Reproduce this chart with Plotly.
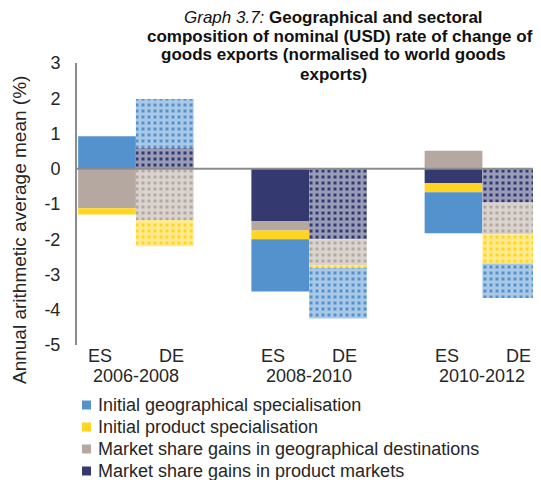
import plotly.graph_objects as go

# ---- data ----
periods = ["2006-2008", "2008-2010", "2010-2012"]
countries = ["ES", "DE"]

# stacking order (closest to zero first)
series_names = [
    "Market share gains in product markets",
    "Market share gains in geographical destinations",
    "Initial product specialisation",
    "Initial geographical specialisation",
]
product_markets_es = [0.00, -1.48, -0.41]
product_markets_de = [0.59, -2.00, -0.96]
geo_destinations_es = [-1.12, -0.27, 0.51]
geo_destinations_de = [-1.46, -0.74, -0.90]
initial_product_es = [-0.18, -0.25, -0.26]
initial_product_de = [-0.74, -0.07, -0.83]
initial_geo_es = [0.92, -1.48, -1.16]
initial_geo_de = [1.39, -1.44, -0.98]

values_es = [product_markets_es, geo_destinations_es, initial_product_es, initial_geo_es]
values_de = [product_markets_de, geo_destinations_de, initial_product_de, initial_geo_de]
colors = ["#343A70", "#B4A8A0", "#FFD520", "#5392CC"]

y_tick_vals = [-5, -4, -3, -2, -1, 0, 1, 2, 3]
y_tick_labels = ["-5", "-4", "-3", "-2", "-1", "0", "1", "2", "3"]

title_lines = [
    "<i>Graph 3.7:</i> <b>Geographical and sectoral</b>",
    "<b>composition of nominal (USD) rate of change of</b>",
    "<b>goods exports (normalised to world goods</b>",
    "<b>exports)</b>",
]
y_title = "Annual arithmetic average mean (%)"

# ---- layout geometry (page body has an 8px margin) ----
OFF = 8
W, H = 541 - OFF, 480 - OFF
L, R, T, B = 77 - OFF, 0, 63 - OFF, 135
PW, PH = W - L - R, H - T - B
FONT = "Arial, Liberation Sans, sans-serif"
TXT = "#262626"

def px_x(px):
    return (px - OFF - L) / PW

def px_y(py):
    return (H - B - (py - OFF)) / PH

group_step = 3
x_es = [g * group_step + 0.5 for g in range(len(periods))]
x_de = [g * group_step + 1.5 for g in range(len(periods))]
x_center = [g * group_step + 1.0 for g in range(len(periods))]

fig = go.Figure()
for name, col, ves in zip(series_names, colors, values_es):
    fig.add_trace(go.Bar(
        x=x_es, y=ves, width=1, name=name, showlegend=False,
        marker=dict(color=col, line=dict(width=0)),
    ))
for name, col, vde in zip(series_names, colors, values_de):
    fig.add_trace(go.Bar(
        x=x_de, y=vde, width=1, name=name, showlegend=False,
        marker=dict(color=col, line=dict(width=0),
                    pattern=dict(shape="+", fgcolor="white", bgcolor=col,
                                 size=6, solidity=0.75)),
    ))

annotations = []
shapes = []
# x labels
for xc, per in zip(x_center, periods):
    for xx, lab in ((xc - 0.62, countries[0]), (xc + 0.62, countries[1])):
        annotations.append(dict(x=xx, xref="x", y=0, yref="paper", yanchor="middle",
                                yshift=-11, text=lab, showarrow=False,
                                font=dict(size=18, color=TXT, family=FONT)))
    annotations.append(dict(x=xc, xref="x", y=0, yref="paper", yanchor="middle",
                            yshift=-31, text=per, showarrow=False,
                            font=dict(size=18, color=TXT, family=FONT)))
# title lines
for txt, cx, cy in zip(title_lines, [333, 340, 333, 333], [17, 36, 55, 75]):
    annotations.append(dict(x=px_x(cx), xref="paper", y=px_y(cy), yref="paper",
                            xanchor="center", yanchor="middle", text=txt,
                            showarrow=False,
                            font=dict(size=17, color="#111111", family=FONT)))
# y axis title
annotations.append(dict(x=px_x(19), xref="paper", y=px_y(230), yref="paper",
                        xanchor="center", yanchor="middle", textangle=-90,
                        text=y_title, showarrow=False,
                        font=dict(size=19, color=TXT, family=FONT)))

# legend (listed top to bottom in reverse stacking order)
for i, (name, col) in enumerate(zip(series_names[::-1], colors[::-1])):
    cy = 405 + 22 * i
    shapes.append(dict(type="rect", xref="paper", yref="paper",
                       x0=px_x(82), x1=px_x(91), y0=px_y(cy + 4.5), y1=px_y(cy - 4.5),
                       fillcolor=col, line=dict(width=0)))
    annotations.append(dict(x=px_x(96), xref="paper", y=px_y(cy), yref="paper",
                            xanchor="left", yanchor="middle", text=name,
                            showarrow=False,
                            font=dict(size=18, color=TXT, family=FONT)))

shapes.append(dict(type="line", xref="paper", x0=0, x1=1, yref="y", y0=0, y1=0,
                   line=dict(color="#8C8C8C", width=2), layer="above"))

fig.update_layout(
    width=W, height=H,
    margin=dict(l=L, r=R, t=T, b=B, pad=0),
    paper_bgcolor="white", plot_bgcolor="white",
    barmode="relative",
    showlegend=False,
    xaxis=dict(range=[-0.02, 8.015], showticklabels=False, showgrid=False,
               zeroline=False, showline=False, ticks=""),
    yaxis=dict(range=[-5, 3], tickvals=y_tick_vals, ticktext=y_tick_labels,
               showgrid=False, zeroline=False,
               showline=True, linecolor="#8C8C8C", linewidth=2,
               ticks="outside", ticklen=11, tickcolor="rgba(0,0,0,0)",
               tickfont=dict(size=18, color=TXT, family=FONT)),
    annotations=annotations,
    shapes=shapes,
)

fig.write_html("out.html")
